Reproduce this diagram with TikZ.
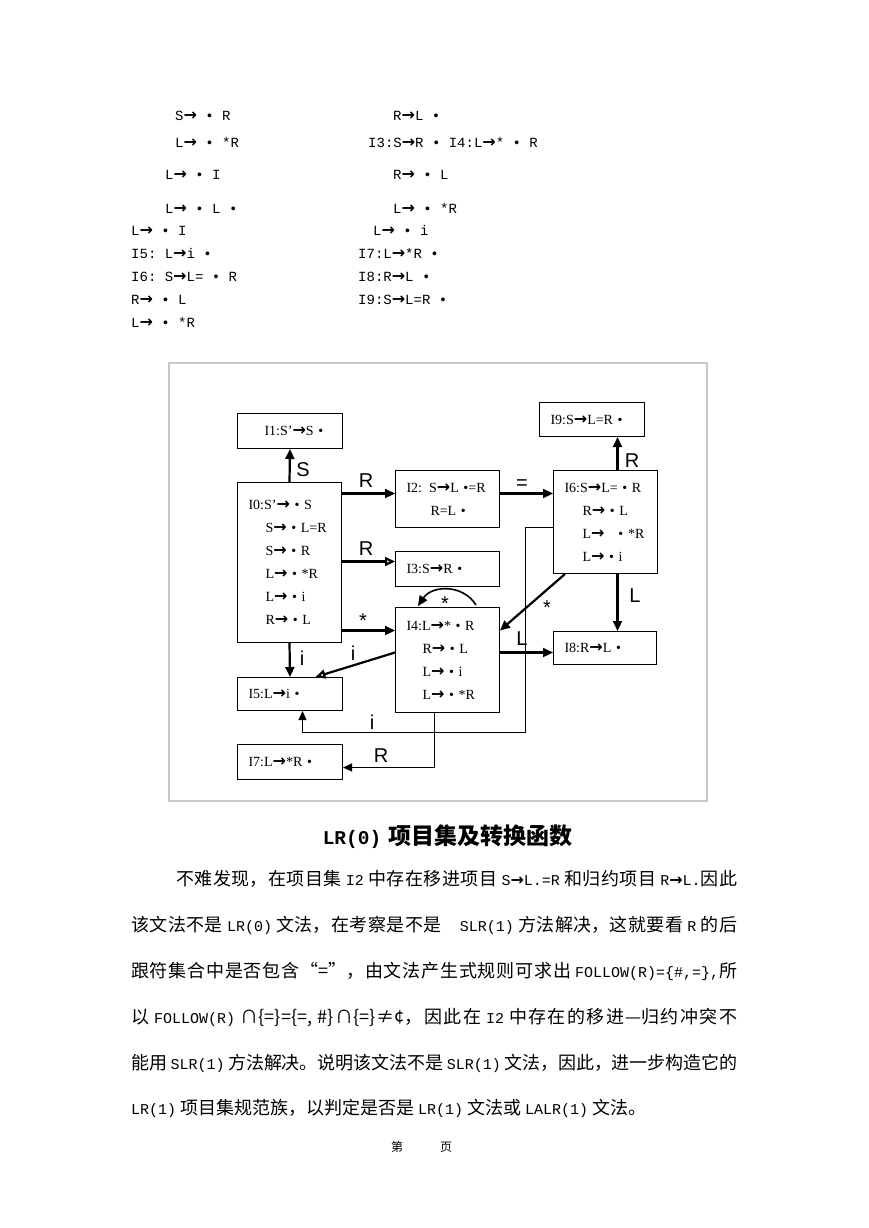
\documentclass[tikz,border=0pt]{standalone}
\usepackage{fontspec}
\setmainfont{Liberation Serif}
\setmonofont{Liberation Mono}
\newfontfamily\cjk{Noto Sans CJK SC}
\newfontfamily\labfont{Liberation Sans}
\newfontfamily\symf{DejaVu Sans}
\usetikzlibrary{arrows.meta}
\XeTeXlinebreaklocale "zh"
\XeTeXlinebreakskip=0pt plus 3pt minus 0.3pt
\tolerance=9999
\tikzset{
  box/.style={draw,line width=1pt,anchor=north west,inner xsep=11pt,inner ysep=0pt,align=left,font=\fontsize{14}{23}\selectfont},
  tarrow/.style={line width=2.2pt,-{Triangle[length=10pt,width=9pt]}},
  oarrow/.style={line width=2.2pt,-{Triangle[open,length=10pt,width=9pt]}},
  route/.style={line width=1pt,-{Triangle[length=9pt,width=8pt]}},
  lbl/.style={anchor=base,inner sep=0pt,font=\labfont\fontsize{20}{20}\selectfont},
  toprow/.style={anchor=base west,inner sep=0pt,font=\ttfamily\fontsize{14}{14}\selectfont},
  bodytext/.style={anchor=base west,inner sep=0pt,font=\cjk\fontsize{18}{20}\selectfont},
  bodyline/.style={bodytext,text width=606pt,align=justify},
  framec/.style={draw=black!22,line width=1.2pt}
}
\newcommand{\arw}{{\symf\bfseries\fontsize{16}{16}\selectfont →}}
\newcommand{\mono}[1]{{\ttfamily\fontsize{15}{18}\selectfont #1}}
\newcommand{\lat}[1]{\hskip4pt plus 2pt minus 1pt\mono{#1}\hskip4pt plus 2pt minus 1pt\relax}

\begin{document}
\begin{tikzpicture}[x=1pt,y=-1pt]
\useasboundingbox[fill=white] (0,0) rectangle (869,1228);
% item notes
\node[toprow] (a1) at (175,121) {S\arw{} • R};
\node[toprow] (a2) at (175,147) {L\arw{} • *R};
\node[toprow] (a3) at (165,179) {L\arw{} • I};
\node[toprow] (a4) at (165,213) {L\arw{} • L •};
\node[toprow] (a5) at (131,235) {L\arw{} • I};
\node[toprow] (a6) at (131,258) {I5: L\arw i •};
\node[toprow] (a7) at (131,281) {I6: S\arw L= • R};
\node[toprow] (a8) at (131,304) {R\arw{} • L};
\node[toprow] (a9) at (131,327) {L\arw{} • *R};
\node[toprow] (b1) at (393,121) {R\arw L •};
\node[toprow] (b2) at (368,147) {I3:S\arw R • I4:L\arw * • R};
\node[toprow] (b3) at (393,179) {R\arw{} • L};
\node[toprow] (b4) at (393,213) {L\arw{} • *R};
\node[toprow] (b5) at (373,235) {L\arw{} • i};
\node[toprow] (b6) at (358,258) {I7:L\arw *R •};
\node[toprow] (b7) at (358,281) {I8:R\arw L •};
\node[toprow] (b8) at (358,304) {I9:S\arw L=R •};

% LR(0) automaton
\draw[framec] (169,363) rectangle (707,801);
\node[box,text width=82pt,minimum height=160pt] (I0) at (237,482) {I0:S’\arw{} • S\\\hspace*{17pt}S\arw{} • L=R\\\hspace*{17pt}S\arw{} • R\\\hspace*{17pt}L\arw{} • *R\\\hspace*{17pt}L\arw{} • i\\\hspace*{17pt}R\arw{} • L};
\node[box,text width=83pt,minimum height=35pt] (I1) at (237,413) {\hspace*{16pt}I1:S’\arw S •};
\node[box,text width=82pt,minimum height=57pt] (I2) at (395,470) {I2: S\arw L •=R\\\hspace*{24pt}R=L •};
\node[box,text width=82pt,minimum height=35pt] (I3) at (395,551) {I3:S\arw R •};
\node[box,text width=82pt,minimum height=105pt] (I4) at (395,607) {I4:L\arw * • R\\\hspace*{16pt}R\arw{} • L\\\hspace*{16pt}L\arw{} • i\\\hspace*{16pt}L\arw{} • *R};
\node[box,text width=83pt,minimum height=33pt] (I5) at (237,677) {I5:L\arw i •};
\node[box,text width=82pt,minimum height=103pt] (I6) at (553,470) {I6:S\arw L= • R\\\hspace*{18pt}R\arw{} • L\\\hspace*{18pt}L\arw{}\ \ \ • *R\\\hspace*{18pt}L\arw{} • i};
\node[box,text width=83pt,minimum height=35pt] (I7) at (237,744) {I7:L\arw *R •};
\node[box,text width=81pt,minimum height=33pt] (I8) at (553,631) {I8:R\arw L •};
\node[box,text width=83pt,minimum height=34pt] (I9) at (539,402) {I9:S\arw L=R •};

\coordinate (r2) at ([yshift=5.5pt]I2.west);
\coordinate (r3) at ([yshift=7.5pt]I3.west);
\coordinate (r4) at ([yshift=29.5pt]I4.west);
\coordinate (r6) at ([yshift=5.5pt]I2.east);
\coordinate (r9) at ([xshift=12pt]I6.north);
\coordinate (r8) at ([xshift=12pt]I6.south);
\coordinate (r48) at ([yshift=-4.5pt]I8.west);
\coordinate (c1) at (525,732);
\draw[tarrow] (I0.north) -- (I1.south);
\draw[tarrow] (r2 -| I0.east) -- (r2);
\draw[oarrow] (r3 -| I0.east) -- (r3);
\draw[tarrow] (r4 -| I0.east) -- (r4);
\draw[tarrow] (r6) -- (r6 -| I6.west);
\draw[tarrow] (r9) -- (r9 |- I9.south);
\draw[tarrow] (r8) -- (r8 |- I8.north);
\draw[tarrow] (r48 -| I4.east) -- (r48);
\draw[tarrow] ([xshift=12pt]I6.south west) -- ([yshift=29.5pt]I4.east);
\draw[tarrow] (I0.south) -- (I5.north);
\draw[oarrow] ([yshift=7.5pt]I4.west) -- ([xshift=25.5pt]I5.north);
\draw[route] ([yshift=-5.5pt]I6.west) -| (c1) -| ([xshift=12.5pt]I5.south);
\draw[route] ([xshift=-13.5pt]I4.south) |- ([yshift=-5.5pt]I7.east);
\draw[tarrow,line width=1.6pt] ([xshift=28.5pt,yshift=2pt]I4.north) .. controls (463,584) and (432,585) .. ([xshift=-29.5pt,yshift=1pt]I4.north);

\node[lbl] (lS) at (303,476) {S};
\node[lbl] (lR2) at (366,487) {R};
\node[lbl] (lR3) at (366,555) {R};
\node[lbl] (ls4) at (363,627) {*};
\node[lbl] (leq) at (522,489) {=};
\node[lbl] (lR9) at (632,467) {R};
\node[lbl] (lL8) at (635,602) {L};
\node[lbl] (ls64) at (547,614) {*};
\node[lbl] (lL48) at (522,645) {L};
\node[lbl] (ls44) at (445,610) {*};
\node[lbl] (li05) at (302,665) {i};
\node[lbl] (li45) at (353,660) {i};
\node[lbl] (li65) at (372,729) {i};
\node[lbl] (lR47) at (381,762) {R};

% caption and text
\node[anchor=base,inner sep=0pt] (cap) at (447.5,844) {\ttfamily\bfseries\fontsize{19.5}{20}\selectfont LR(0)\hspace{7pt}\cjk\bfseries\fontsize{23}{24}\selectfont 项目集及转换函数};
\node[bodyline,text width=561pt] (p1) at (176,885) {\parfillskip=0pt 不难发现，在项目集\lat{I2}中存在移进项目\lat{S\arw L.=R}和归约项目\hskip4pt\mono{R\arw L.}因此\par};
\node[bodyline] (p2) at (131,931) {\parfillskip=0pt 该文法不是\lat{LR(0)}文法，在考察是不是\hskip14pt\lat{SLR(1)}方法解决，这就要看\lat{R}的后\par};
\node[bodyline] (p3) at (131,977) {\parfillskip=0pt 跟符集合中是否包含“=”，由文法产生式规则可求出\hskip4pt\mono{FOLLOW(R)=\{\#,=\},}所\par};
\node[bodyline] (p4) at (131,1023) {\parfillskip=0pt 以\lat{FOLLOW(R)}∩\{=\}=\{=, \#\}∩\{=\}≠¢，因此在\lat{I2}中存在的移进—归约冲突不\par};
\node[bodyline] (p5) at (131,1069) {\parfillskip=0pt 能用\lat{SLR(1)}方法解决。说明该文法不是\lat{SLR(1)}文法，因此，进一步构造它的\par};
\node[bodytext] (p6) at (131,1114) {\mono{LR(1)}\hskip4pt 项目集规范族，以判定是否是\lat{LR(1)}文法或\lat{LALR(1)}文法。};
\node[bodytext,font=\cjk\fontsize{12}{12}\selectfont] (pg) at (391,1151) {第\hspace{37pt}页};
\end{tikzpicture}
\end{document}
